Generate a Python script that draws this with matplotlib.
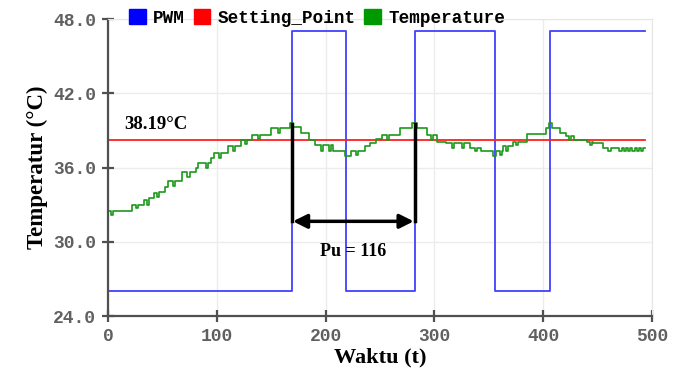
import matplotlib.pyplot as plt
from matplotlib.patches import Patch

# ===== data =====
pwm_t = [0, 169, 219, 282, 356, 406, 494]
pwm_v = [26.0, 47.0, 26.0, 47.0, 26.0, 47.0, 47.0]

setpoint = 38.19
setpoint_t = [0, 494]

temp_t = [0, 3, 5, 22, 26, 28, 33, 36, 38, 42, 45, 47, 52, 55, 60, 62,
          68, 73, 75, 81, 83, 90, 92, 95, 97, 102, 104, 110, 115, 117,
          122, 126, 128, 132, 138, 140, 150, 156, 158, 167, 170, 177,
          185, 190, 196, 198, 203, 205, 207, 218, 223, 228, 230, 236,
          241, 246, 252, 256, 258, 268, 279, 284, 293, 297, 299, 302,
          311, 316, 318, 325, 327, 333, 337, 339, 343, 354, 357, 360,
          362, 363, 366, 368, 372, 375, 377, 385, 403, 405, 408, 415,
          421, 424, 426, 428, 440, 443, 445, 446, 455, 460, 462, 470,
          472, 474, 476, 478, 480, 482, 484, 486, 488, 490, 492, 494]
temp_v = [32.5, 32.2, 32.5, 33.0, 32.7, 33.0, 33.4, 33.0, 33.5, 33.9,
          33.6, 34.0, 34.4, 34.9, 34.5, 34.9, 35.6, 35.2, 35.6, 36.0,
          36.4, 36.0, 36.4, 36.8, 37.2, 36.8, 37.2, 37.7, 37.3, 37.7,
          38.2, 37.9, 38.2, 38.6, 38.3, 38.6, 39.2, 38.8, 39.2, 39.6,
          39.3, 38.8, 38.2, 37.8, 37.3, 37.8, 37.3, 37.8, 37.3, 36.9,
          37.3, 37.0, 37.3, 37.7, 38.0, 38.3, 38.6, 38.2, 38.6, 39.2,
          39.6, 39.2, 38.6, 38.2, 38.6, 38.1, 38.0, 37.6, 38.0, 37.6,
          38.0, 37.6, 37.3, 37.6, 37.3, 36.9, 37.3, 37.0, 37.3, 37.7,
          37.3, 37.7, 38.1, 37.8, 38.1, 38.7, 39.2, 39.6, 39.2, 38.8,
          38.55, 38.2, 38.55, 38.2, 38.1, 37.8, 38.1, 38.0, 37.6, 37.3,
          37.6, 37.3, 37.6, 37.3, 37.6, 37.3, 37.6, 37.3, 37.6, 37.3,
          37.6, 37.3, 37.6, 37.6]

pu_start, pu_end = 169, 282
pu_top = 39.5
pu_y = 31.65
pu_label = "Pu = 116"

x_ticks = [0, 100, 200, 300, 400, 500]
y_ticks = [24.0, 30.0, 36.0, 42.0, 48.0]

serif = ['Liberation Serif', 'DejaVu Serif']
mono = ['Liberation Mono', 'DejaVu Sans Mono']

fig = plt.figure(figsize=(6.83, 3.74), dpi=100)
ax = fig.add_axes([108/683, 1 - 316/374, 544/683, 297/374])

ax.plot(pwm_t, pwm_v, drawstyle='steps-post', color='#4040ff', lw=1.3)
ax.plot(setpoint_t, [setpoint, setpoint], color='#ff2020', lw=1.3)
ax.plot(temp_t, temp_v, drawstyle='steps-post', color='#1a9a1a', lw=1.2)

# ===== periode Pu =====
for tx in (pu_start, pu_end):
    ax.plot([tx, tx], [pu_top, pu_y], color='black', lw=2.5, zorder=5)
ax.annotate('', xy=(pu_start + 1, pu_y), xytext=(pu_end - 1, pu_y),
            arrowprops=dict(arrowstyle='<|-|>', color='black', lw=2.5,
                            mutation_scale=21, shrinkA=0, shrinkB=0),
            zorder=6)
ax.text((pu_start + pu_end) / 2, 29.2, pu_label, ha='center', va='center',
        family=serif, fontweight='bold', fontsize=13)
ax.text(15, 38.8, f"{setpoint:.2f}°C", ha='left', va='bottom',
        family=serif, fontweight='bold', fontsize=13.5)

ax.set_xlim(0, 500)
ax.set_ylim(24, 48)
ax.set_xticks(x_ticks)
ax.set_yticks(y_ticks)
ax.set_yticklabels([f"{v:.1f}" for v in y_ticks])
ax.grid(True, color='#ececec', lw=1)
ax.set_axisbelow(True)

for side in ('top', 'right'):
    ax.spines[side].set_color('#e6e6e6')
for side in ('left', 'bottom'):
    ax.spines[side].set_color('#505050')
    ax.spines[side].set_linewidth(1.6)
ax.tick_params(direction='inout', length=9, width=1.6, color='#505050',
               labelcolor='#606060', labelsize=13, pad=4)
for lab in ax.get_xticklabels() + ax.get_yticklabels():
    lab.set_family(mono)
    lab.set_fontweight('bold')

ax.set_xlabel('Waktu (t)', family=serif, fontweight='bold', fontsize=16,
              labelpad=2)
ax.set_ylabel('Temperatur (°C)', family=serif, fontweight='bold',
              fontsize=16.5, labelpad=4)

handles = [Patch(color='#0000ff', label='PWM'),
           Patch(color='#ff0000', label='Setting_Point'),
           Patch(color='#009900', label='Temperature')]
fig.legend(handles=handles, loc='center left',
           bbox_to_anchor=(122/683, 1 - 18/374), ncol=3, frameon=False,
           handlelength=0.95, handleheight=0.95, handletextpad=0.4,
           columnspacing=0.5, borderaxespad=0,
           prop={'family': mono, 'weight': 'bold', 'size': 12.7})

fig.savefig('out.png', dpi=100)
